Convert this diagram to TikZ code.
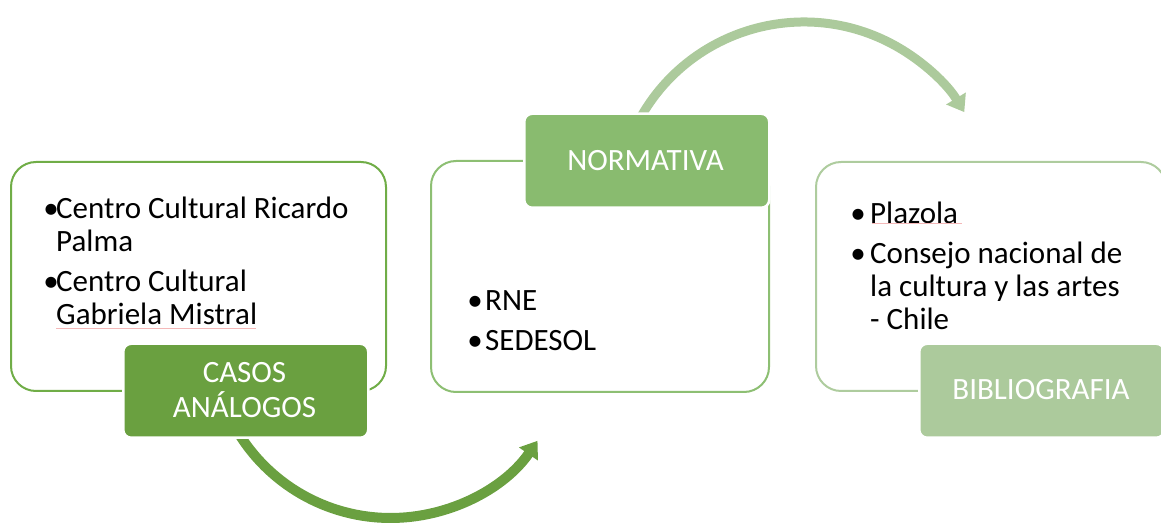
\documentclass[tikz,border=0pt]{standalone}
\usepackage{fontspec}
\setmainfont{Carlito}
\usetikzlibrary{arrows.meta}
\definecolor{gA}{RGB}{106,160,64}
\definecolor{gAline}{RGB}{112,173,71}
\definecolor{gB}{RGB}{137,187,111}
\definecolor{gBline}{RGB}{141,191,115}
\definecolor{gC}{RGB}{172,202,156}
\definecolor{gCline}{RGB}{174,204,158}
\definecolor{spell}{RGB}{244,184,184}
\begin{document}
\begin{tikzpicture}[x=1pt,y=1pt,
  outerbox/.style={draw, line width=2pt, fill=white, rounded corners=25pt, anchor=south west, inner sep=0pt},
  labelbox/.style={draw=white, line width=2.5pt, rounded corners=8pt, anchor=south west, inner sep=0pt, minimum width=245pt, minimum height=94pt},
  bodytext/.style={font=\fontsize{31}{33}\selectfont, align=left, anchor=base west, inner sep=0pt},
  labeltext/.style={font=\fontsize{31}{33}\selectfont, align=center, anchor=base, inner sep=0pt, text=white},
  bigarrow/.style={line width=#1, -{Triangle[width=22pt,length=16pt]}},
  spellline/.style={draw=spell, line width=0.8pt}
]
\useasboundingbox (0,0) rectangle (1161,527);

% arrows (behind the boxes)
\coordinate (a1s) at (239.05,92.96);
\coordinate (a2s) at (639.9,408.35);
\draw[bigarrow=10pt, gA] (a1s) arc[start angle=212, end angle=325.4, radius=178.6];
\draw[bigarrow=9pt, gC] (a2s) arc[start angle=151, end angle=31.3, radius=187.6];

% outer boxes
\node[outerbox, draw=gAline, minimum width=375pt, minimum height=229pt] (boxA) at (10,135) {};
\node[outerbox, draw=gBline, minimum width=338pt, minimum height=231pt] (boxB) at (430,134) {};
\node[outerbox, draw=gCline, minimum width=350pt, minimum height=229pt] (boxC) at (815,135) {};

% label boxes
\node[labelbox, fill=gA] (labA) at (122,88) {};
\node[labelbox, fill=gB] (labB) at (523,318) {};
\node[labelbox, fill=gC] (labC) at (918,88) {};

% label texts (base anchor = baseline of the last line)
\node[labeltext] (labAt) at (244.5,109) {CASOS\\[2pt]ANÁLOGOS};
\node[labeltext] (labBt) at (645.5,356) {NORMATIVA};
\node[labeltext] (labCt) at (1041,127) {BIBLIOGRAFIA};

% body texts (base anchor = baseline of the last line)
\node[bodytext] (txtA) at (56,202) {\llap{\makebox[10pt]{•}}Centro Cultural Ricardo\\Palma\\[7pt]\llap{\makebox[10pt]{•}}Centro Cultural\\Gabriela Mistral};
\node[bodytext] (txtB) at (485,176) {\llap{\makebox[20pt]{•}}RNE\\[7pt]\llap{\makebox[20pt]{•}}SEDESOL};
\node[bodytext] (txtC) at (870,197) {\llap{\makebox[24pt]{•}}Plazola\\[7pt]\llap{\makebox[24pt]{•}}Consejo nacional de\\la cultura y las artes\\- Chile};

% spell-check underlines
\draw[spellline] (56,199) -- (256,199);
\draw[spellline] (872,304) -- (962,304);
\end{tikzpicture}
\end{document}
